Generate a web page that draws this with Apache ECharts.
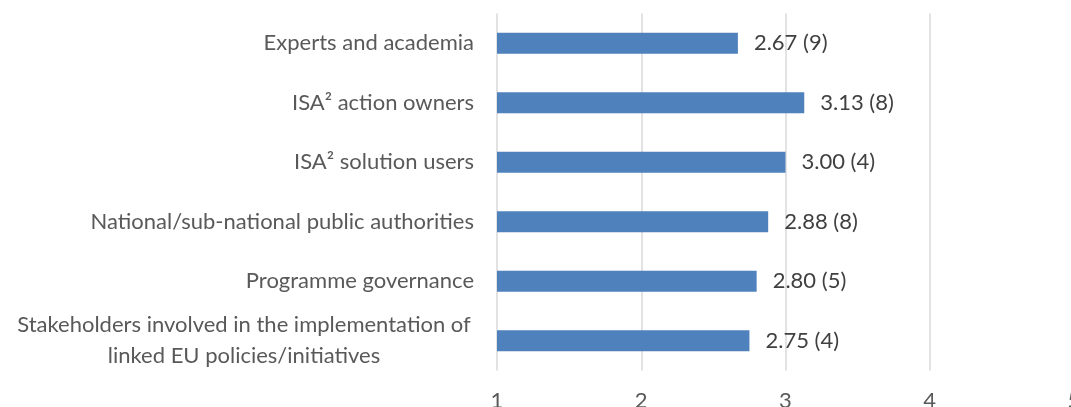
<!DOCTYPE html>
<html>
<head>
<meta charset="utf-8">
<script src="https://cdn.jsdelivr.net/npm/echarts@6/dist/echarts.min.js"></script>
<style>
html,body{margin:0;padding:0;background:#fff;}
#c{width:1071px;height:407px;}
</style>
</head>
<body>
<div id="c"></div>
<script>
const categories = [
  "Experts and academia",
  "ISA² action owners",
  "ISA² solution users",
  "National/sub-national public authorities",
  "Programme governance",
  "Stakeholders involved in the implementation of\nlinked EU policies/initiatives"
];
const scores = [2.67, 3.13, 3.00, 2.88, 2.80, 2.75];
const counts = [9, 8, 4, 8, 5, 4];
const xTicks = [1, 2, 3, 4, 5];

const FONT = "Lato";
const FS = 22;
const chart = echarts.init(document.getElementById('c'), null, {renderer: 'canvas'});
chart.setOption({
  animation: false,
  backgroundColor: '#ffffff',
  grid: {left: 497, right: -3, top: 13.5, bottom: 36.5, containLabel: false, outerBoundsMode: 'none'},
  xAxis: {
    type: 'value',
    min: xTicks[0],
    max: xTicks[xTicks.length - 1],
    interval: 1,
    axisLine: {show: false},
    axisTick: {show: false},
    splitLine: {show: true, lineStyle: {color: '#d9d9d9', width: 1.5}},
    axisLabel: {
      color: '#595959', fontFamily: FONT, fontSize: FS, margin: 19,
      hideOverlap: false,
      formatter: function (v) { return xTicks.indexOf(v) >= 0 ? String(v) : ''; }
    }
  },
  yAxis: {
    type: 'category',
    data: categories,
    inverse: true,
    axisLine: {show: false},
    axisTick: {show: false},
    splitLine: {show: false},
    axisLabel: {
      color: '#595959', fontFamily: FONT, fontSize: FS, margin: 23,
      lineHeight: 30,
      formatter: function (v) {
        if (v.indexOf('\n') >= 0) {
          return v.split('\n').map(function (s) { return '{m|' + s + '}'; }).join('\n');
        }
        return v;
      },
      rich: {
        m: {width: 460, align: 'center', color: '#595959', fontFamily: FONT, fontSize: FS, lineHeight: 31}
      }
    }
  },
  series: [{
    type: 'bar',
    data: scores,
    barWidth: 21,
    itemStyle: {color: '#4f81bd'},
    label: {
      show: true,
      position: 'right',
      distance: 16,
      color: '#404040',
      fontFamily: FONT,
      fontSize: FS,
      formatter: function (p) { return p.value.toFixed(2) + ' (' + counts[p.dataIndex] + ')'; }
    }
  }]
});
</script>
</body>
</html>
